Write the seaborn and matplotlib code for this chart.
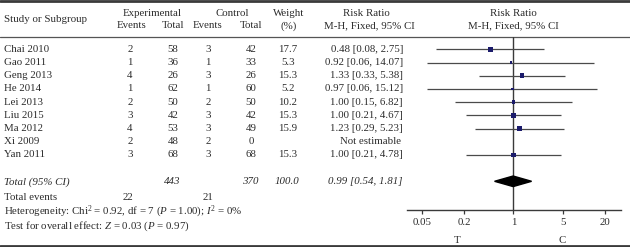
import numpy as np
import pandas as pd
import seaborn as sns
import matplotlib.pyplot as plt

# study level data
studies = ["Chai 2010", "Gao 2011", "Geng 2013", "He 2014", "Lei 2013",
           "Liu 2015", "Ma 2012", "Xi 2009", "Yan 2011"]
exp_events = [2, 1, 4, 1, 2, 3, 4, 2, 3]
exp_total = [58, 36, 26, 62, 50, 42, 53, 48, 68]
ctrl_events = [3, 1, 3, 1, 2, 3, 3, 2, 3]
ctrl_total = [42, 33, 26, 60, 50, 42, 49, 0, 68]
weights = [17.7, 5.3, 15.3, 5.2, 10.2, 15.3, 15.9, np.nan, 15.3]
rr = [0.48, 0.92, 1.33, 0.97, 1.00, 1.00, 1.23, np.nan, 1.00]
ci_low = [0.08, 0.06, 0.33, 0.06, 0.15, 0.21, 0.29, np.nan, 0.21]
ci_high = [2.75, 14.07, 5.38, 15.12, 6.82, 4.67, 5.23, np.nan, 4.78]

# pooled result
total_exp, total_ctrl, total_weight = 443, 370, 100.0
total_rr, total_low, total_high = 0.99, 0.54, 1.81
events_exp, events_ctrl = 22, 21
heterogeneity = r"Heterogeneity: Chi$^2$ = 0.92, df = 7 ($P$ = 1.00); $I^2$ = 0%"
overall = r"Test for overall effect: $Z$ = 0.03 ($P$ = 0.97)"

tick_values = [0.05, 0.2, 1, 5, 20]
tick_labels = ["0.05", "0.2", "1", "5", "20"]
favours = ["T", "C"]

df = pd.DataFrame({"study": studies, "rr": rr, "low": ci_low,
                   "high": ci_high, "weight": weights})
df["row"] = np.arange(len(df))

sns.set_style("white")
plt.rcParams["font.family"] = ["Liberation Serif", "DejaVu Serif"]
plt.rcParams["mathtext.fontset"] = "custom"
plt.rcParams["mathtext.rm"] = "Liberation Serif"
plt.rcParams["mathtext.it"] = "Liberation Serif:italic"

txt = "#2b2b2b"
fs = 7.8

fig = plt.figure(figsize=(6.3, 2.47), dpi=100)

# full figure axes in pixel units for the table text
ax0 = fig.add_axes([0, 0, 1, 1])
ax0.set_xlim(0, 630)
ax0.set_ylim(247, 0)
ax0.axis("off")


def row_y(r):
    return 49.3 + 13.2 * r


def put(x, y, s, ha="center", **kw):
    ax0.text(x, y, s, ha=ha, va="center", fontsize=fs, color=txt, **kw)


# header
put(4, 19, "Study or Subgroup", ha="left")
put(152, 13, "Experimental")
put(132, 26, "Events")
put(173, 26, "Total")
put(232, 13, "Control")
put(208, 26, "Events")
put(251, 26, "Total")
put(289, 13, "Weight")
put(289, 26, "(%)")
put(366, 13, "Risk Ratio")
put(369, 26, "M-H, Fixed, 95% CI")
put(513, 13, "Risk Ratio")
put(513, 26, "M-H, Fixed, 95% CI")

for i in range(len(studies)):
    y = row_y(i)
    put(4, y, studies[i], ha="left")
    put(130, y, str(exp_events[i]))
    put(173, y, str(exp_total[i]))
    put(208, y, str(ctrl_events[i]))
    put(251, y, str(ctrl_total[i]))
    if np.isnan(weights[i]):
        put(401, y, "Not estimable", ha="right")
    else:
        put(288, y, f"{weights[i]:.1f}")
        put(403, y, f"{rr[i]:.2f} [{ci_low[i]:.2f}, {ci_high[i]:.2f}]",
            ha="right")

yt = row_y(10.03)
put(4, yt, "Total (95% CI)", ha="left", style="italic")
put(172, yt, str(total_exp), style="italic")
put(250, yt, str(total_ctrl), style="italic")
put(287, yt, f"{total_weight:.1f}", style="italic")
put(403, yt, f"{total_rr:.2f} [{total_low:.2f}, {total_high:.2f}]",
    ha="right", style="italic")
put(4, 197, "Total events", ha="left")
put(128, 197, str(events_exp))
put(208, 197, str(events_ctrl))
put(4, 211.7, heterogeneity, ha="left")
put(4, 226, overall, ha="left")
put(457, 240, favours[0])
put(562, 240, favours[1])

# rules
ax0.axhline(1, color="#3a3a3a", lw=2)
ax0.axhline(37, color="#555555", lw=0.9)
ax0.axhline(246, color="#3a3a3a", lw=2)

# forest plot axes
ax = fig.add_axes([407 / 630, 1 - 209.5 / 247, 214 / 630, 172.5 / 247])
ax.patch.set_alpha(0)
ax.set_xscale("log")
ax.hlines(df["row"], df["low"], df["high"], color="#4a4a4a", lw=0.9, zorder=2)
sns.scatterplot(data=df.dropna(), x="rr", y="row", size="weight",
                sizes=(5.2 * 0.7, 17.7 * 0.7), size_norm=(5.2, 17.7),
                marker="s", color="#1b1b6b", linewidth=0, legend=False,
                ax=ax, zorder=3)
ax.fill([total_low, total_rr, total_high, total_rr],
        [10, 10 - 0.4, 10, 10 + 0.4], color="black", zorder=3)
ax.axvline(1, color="#3a3a3a", lw=1, zorder=1)

ax.set_xlim(0.031, 33.5)
ax.set_ylim((209.5 - 49.3) / 13.2, (37 - 49.3) / 13.2)
ax.set_xticks(tick_values)
ax.set_xticklabels(tick_labels)
ax.minorticks_off()
ax.set_yticks([])
ax.set_xlabel("")
ax.set_ylabel("")
sns.despine(ax=ax, left=True)
ax.spines["bottom"].set_color("#3a3a3a")
ax.spines["bottom"].set_linewidth(1)
ax.tick_params(axis="x", direction="out", length=3, width=0.9,
               color="#3a3a3a", labelsize=fs, labelcolor=txt, pad=3, bottom=True)

fig.savefig("out.png", dpi=100)
